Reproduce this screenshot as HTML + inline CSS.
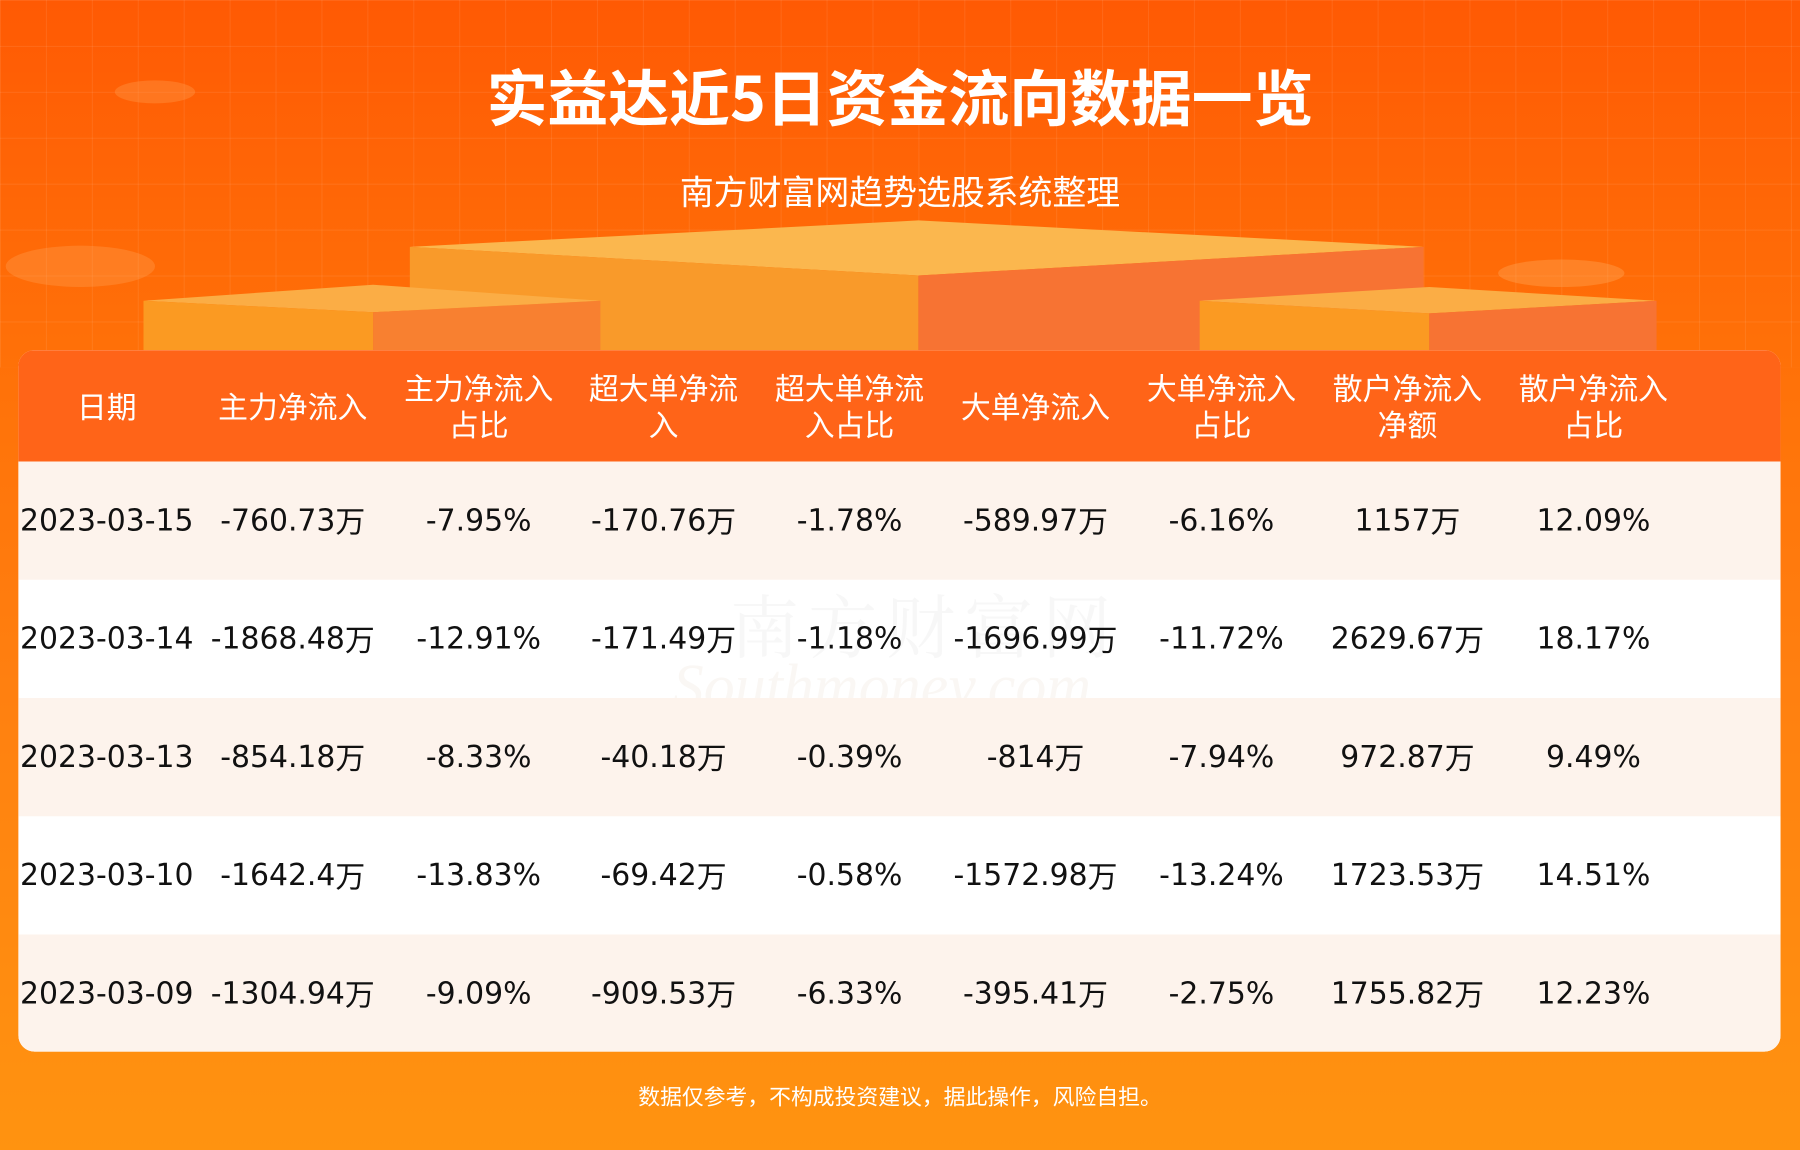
<!DOCTYPE html>
<html><head><meta charset="utf-8"><style>
html,body{margin:0;padding:0;width:1800px;height:1150px;overflow:hidden}
#s{position:absolute;left:0;top:0;width:1568px;height:1002px;transform:scale(1.148);transform-origin:0 0;
background:linear-gradient(180deg,#ff5a04 0%,#ff7008 30%,#ff8010 60%,#ff9310 100%);overflow:hidden;
font-family:"Liberation Sans","Noto Sans CJK SC",sans-serif}
.grid{position:absolute;left:0;top:0;width:1568px;height:320px;
background-image:linear-gradient(rgba(255,255,255,.08) 1px,transparent 1px),linear-gradient(90deg,rgba(255,255,255,.08) 1px,transparent 1px);background-size:40px 40px}
.abs{position:absolute}
h1{position:absolute;left:0;width:1568px;top:48px;margin:0;text-align:center;color:#fff;font-size:53px;font-weight:bold;font-family:"Noto Sans CJK SC",sans-serif;line-height:70px}
.sub{position:absolute;left:0;width:1568px;top:146px;text-align:center;color:#fff;font-size:29.5px;line-height:40px;font-family:"Noto Sans CJK SC",sans-serif}
.tbl{position:absolute;left:16px;top:305px;width:1535px;height:611px;border-radius:14px;overflow:hidden;background:#fff}
.hd{position:absolute;left:0;top:0;width:1535px;height:97px;background:#ff6418}
.c{position:absolute;width:162px;text-align:center;white-space:nowrap;font-family:"DejaVu Sans","Noto Sans CJK SC",sans-serif}
.hd .c{color:#fff;font-size:26px;line-height:32px;font-family:"Noto Sans CJK SC",sans-serif}
.row{position:absolute;left:0;width:1535px;height:103px}
.row .c{top:36px;font-size:26px;line-height:32px;height:32px;color:#111}
.row .c span{font-family:"Noto Sans CJK SC",sans-serif;display:inline-block;line-height:32px;vertical-align:top}
.foot{position:absolute;left:0;width:1568px;top:941px;text-align:center;color:#fff;font-size:19px;line-height:28px;font-family:"Noto Sans CJK SC",sans-serif}
</style></head><body><div id="s">
<div class="grid"></div>
<svg class="abs" style="left:0;top:0" width="1568" height="310">
<polygon points="357,215 800,192 1240,215 800,240" fill="#fbb74e"/>
<polygon points="357,215 800,240 800,310 357,310" fill="#f99a2a"/>
<polygon points="800,240 1240,215 1240,310 800,310" fill="#f77333"/>
<polygon points="125,262 325,248 523,262 325,272" fill="#fbad45"/>
<polygon points="125,262 325,272 325,310 125,310" fill="#fb9a22"/>
<polygon points="325,272 523,262 523,310 325,310" fill="#f88030"/>
<polygon points="1045,262 1245,250 1443,262 1245,273" fill="#fbad45"/>
<polygon points="1045,262 1245,273 1245,310 1045,310" fill="#fb9a22"/>
<polygon points="1245,273 1443,262 1443,310 1245,310" fill="#f77333"/>
<ellipse cx="135" cy="80" rx="35" ry="10" fill="#ffa050" opacity=".35"/>
<ellipse cx="70" cy="232" rx="65" ry="18" fill="#ffa860" opacity=".3"/>
<ellipse cx="1360" cy="238" rx="55" ry="12" fill="#ffb060" opacity=".35"/>
</svg>
<h1>实益达近5日资金流向数据一览</h1>
<div class="sub">南方财富网趋势选股系统整理</div>
<div class="tbl">
<div class="hd">
<div class="c" style="left:-4px;top:33px">日期</div>
<div class="c" style="left:158px;top:33px">主力净流入</div>
<div class="c" style="left:320px;top:17px">主力净流入<br>占比</div>
<div class="c" style="left:481px;top:17px">超大单净流<br>入</div>
<div class="c" style="left:643px;top:17px">超大单净流<br>入占比</div>
<div class="c" style="left:805px;top:33px">大单净流入</div>
<div class="c" style="left:967px;top:17px">大单净流入<br>占比</div>
<div class="c" style="left:1129px;top:17px">散户净流入<br>净额</div>
<div class="c" style="left:1291px;top:17px">散户净流入<br>占比</div>
</div>
<div class="abs" style="left:620px;top:195px;font-size:60px;color:rgba(200,200,200,.15);font-family:'Noto Serif CJK SC',serif;letter-spacing:8px">南方财富网</div>
<div class="abs" style="left:570px;top:262px;font-size:54px;color:rgba(220,200,180,.15);font-family:'Liberation Serif',serif;font-style:italic">Southmoney.com</div>
<div class="row" style="top:97px;background:#fdf3ec">
<div class="c" style="left:-4px">2023-03-15</div><div class="c" style="left:158px">-760.73<span>万</span></div><div class="c" style="left:320px">-7.95%</div><div class="c" style="left:481px">-170.76<span>万</span></div><div class="c" style="left:643px">-1.78%</div><div class="c" style="left:805px">-589.97<span>万</span></div><div class="c" style="left:967px">-6.16%</div><div class="c" style="left:1129px">1157<span>万</span></div><div class="c" style="left:1291px">12.09%</div></div>
<div class="row" style="top:200px;background:transparent">
<div class="c" style="left:-4px">2023-03-14</div><div class="c" style="left:158px">-1868.48<span>万</span></div><div class="c" style="left:320px">-12.91%</div><div class="c" style="left:481px">-171.49<span>万</span></div><div class="c" style="left:643px">-1.18%</div><div class="c" style="left:805px">-1696.99<span>万</span></div><div class="c" style="left:967px">-11.72%</div><div class="c" style="left:1129px">2629.67<span>万</span></div><div class="c" style="left:1291px">18.17%</div></div>
<div class="row" style="top:303px;background:#fdf3ec">
<div class="c" style="left:-4px">2023-03-13</div><div class="c" style="left:158px">-854.18<span>万</span></div><div class="c" style="left:320px">-8.33%</div><div class="c" style="left:481px">-40.18<span>万</span></div><div class="c" style="left:643px">-0.39%</div><div class="c" style="left:805px">-814<span>万</span></div><div class="c" style="left:967px">-7.94%</div><div class="c" style="left:1129px">972.87<span>万</span></div><div class="c" style="left:1291px">9.49%</div></div>
<div class="row" style="top:406px;background:transparent">
<div class="c" style="left:-4px">2023-03-10</div><div class="c" style="left:158px">-1642.4<span>万</span></div><div class="c" style="left:320px">-13.83%</div><div class="c" style="left:481px">-69.42<span>万</span></div><div class="c" style="left:643px">-0.58%</div><div class="c" style="left:805px">-1572.98<span>万</span></div><div class="c" style="left:967px">-13.24%</div><div class="c" style="left:1129px">1723.53<span>万</span></div><div class="c" style="left:1291px">14.51%</div></div>
<div class="row" style="top:509px;background:#fdf3ec">
<div class="c" style="left:-4px">2023-03-09</div><div class="c" style="left:158px">-1304.94<span>万</span></div><div class="c" style="left:320px">-9.09%</div><div class="c" style="left:481px">-909.53<span>万</span></div><div class="c" style="left:643px">-6.33%</div><div class="c" style="left:805px">-395.41<span>万</span></div><div class="c" style="left:967px">-2.75%</div><div class="c" style="left:1129px">1755.82<span>万</span></div><div class="c" style="left:1291px">12.23%</div></div>
</div>
<div class="foot">数据仅参考，不构成投资建议，据此操作，风险自担。</div>
</div></body></html>
